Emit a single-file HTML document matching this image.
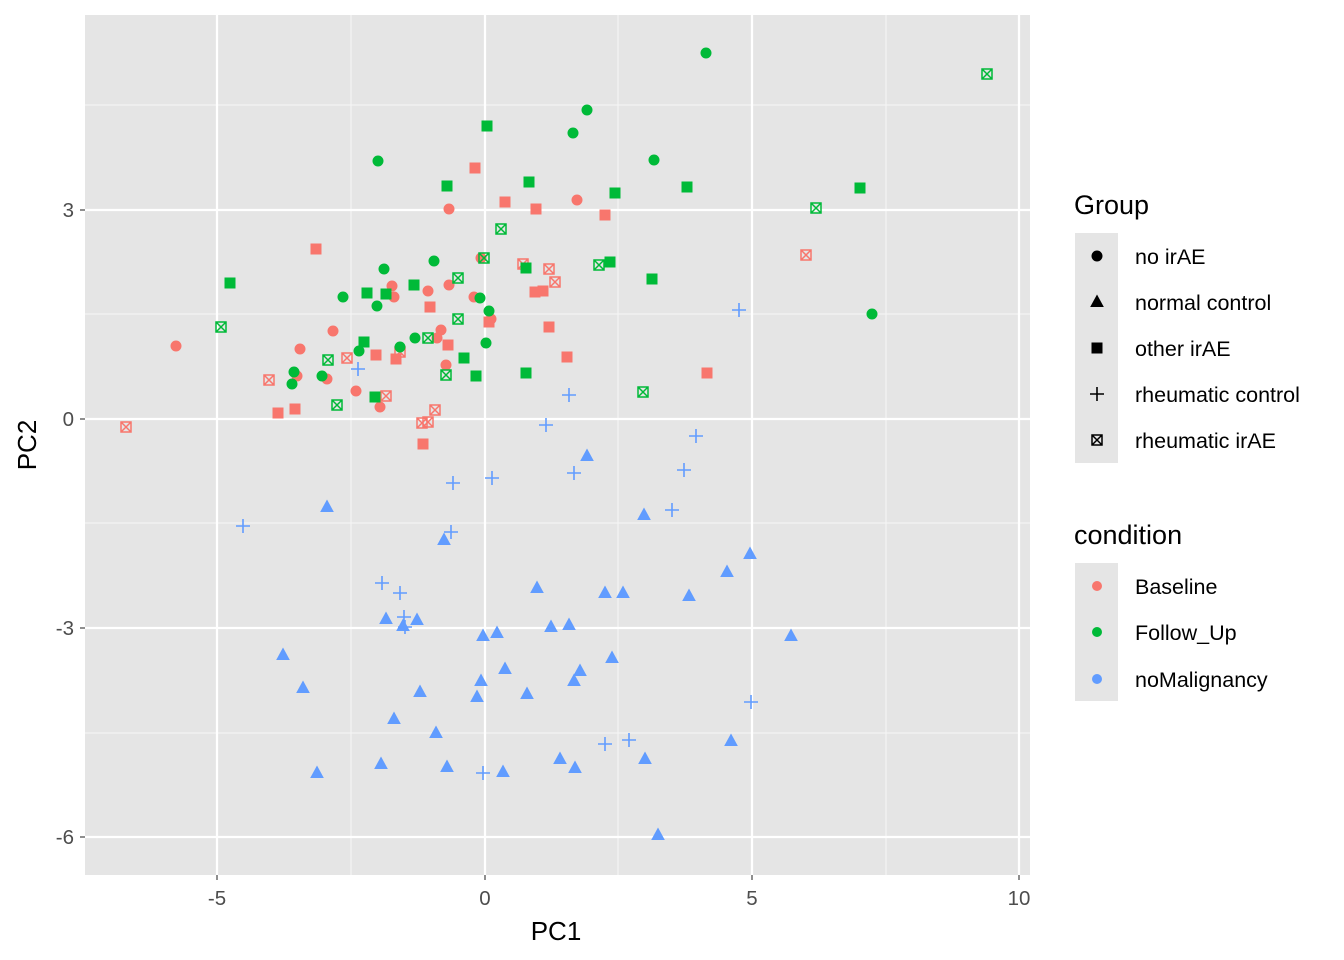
<!DOCTYPE html>
<html><head><meta charset="utf-8"><style>
html,body{margin:0;padding:0;background:#fff;}
svg{display:block;font-family:"Liberation Sans",Arial,sans-serif;}
</style></head><body>
<svg width="1344" height="960" viewBox="0 0 1344 960" xmlns="http://www.w3.org/2000/svg">
<defs>
<symbol id="c" overflow="visible"><circle cx="0" cy="0" r="5"/></symbol>
<symbol id="s" overflow="visible"><rect x="-5" y="-5" width="10" height="10"/></symbol>
<symbol id="t" overflow="visible"><polygon points="0,-6.5 6,4.5 -6,4.5"/></symbol>
<symbol id="p" overflow="visible"><path d="M-7,0H7M0,-7V7" stroke-width="1.6" fill="none"/></symbol>
<symbol id="b" overflow="visible"><path d="M-5,-5H5V5H-5Z M-5,-5L5,5 M5,-5L-5,5" stroke-width="1.5" fill="none"/></symbol>
</defs>
<rect x="85" y="15" width="945" height="860" fill="#e5e5e5"/>
<g stroke="#f4f4f4" stroke-width="1.2">
<line x1="351" y1="15" x2="351" y2="875"/><line x1="618" y1="15" x2="618" y2="875"/><line x1="886" y1="15" x2="886" y2="875"/>
<line x1="85" y1="105" x2="1030" y2="105"/><line x1="85" y1="314" x2="1030" y2="314"/><line x1="85" y1="523" x2="1030" y2="523"/><line x1="85" y1="733" x2="1030" y2="733"/>
</g>
<g stroke="#fff" stroke-width="2.2">
<line x1="217" y1="15" x2="217" y2="875"/><line x1="485" y1="15" x2="485" y2="875"/><line x1="752" y1="15" x2="752" y2="875"/><line x1="1019" y1="15" x2="1019" y2="875"/>
<line x1="85" y1="210" x2="1030" y2="210"/><line x1="85" y1="419" x2="1030" y2="419"/><line x1="85" y1="628" x2="1030" y2="628"/><line x1="85" y1="837" x2="1030" y2="837"/>
</g>
<g fill="#F8766D" stroke="#F8766D">
<use href="#c" x="176" y="346"/><use href="#c" x="300" y="349"/><use href="#c" x="297" y="376"/><use href="#c" x="327" y="379"/><use href="#c" x="333" y="331"/><use href="#c" x="356" y="391"/><use href="#c" x="380" y="407"/><use href="#c" x="392" y="286"/><use href="#c" x="394" y="297"/><use href="#c" x="428" y="291"/><use href="#c" x="441" y="330"/><use href="#c" x="437" y="338"/><use href="#c" x="449" y="285"/><use href="#c" x="449" y="209"/><use href="#c" x="446" y="365"/><use href="#c" x="474" y="297"/><use href="#c" x="481" y="258"/><use href="#c" x="577" y="200"/><use href="#c" x="491" y="319"/>
<use href="#s" x="316" y="249"/><use href="#s" x="278" y="413"/><use href="#s" x="295" y="409"/><use href="#s" x="376" y="355"/><use href="#s" x="396" y="359"/><use href="#s" x="430" y="307"/><use href="#s" x="448" y="345"/><use href="#s" x="423" y="444"/><use href="#s" x="475" y="168"/><use href="#s" x="505" y="202"/><use href="#s" x="489" y="322"/><use href="#s" x="536" y="209"/><use href="#s" x="535" y="292"/><use href="#s" x="543" y="291"/><use href="#s" x="549" y="327"/><use href="#s" x="567" y="357"/><use href="#s" x="605" y="215"/><use href="#s" x="707" y="373"/>
<use href="#b" x="126" y="427"/><use href="#b" x="269" y="380"/><use href="#b" x="347" y="358"/><use href="#b" x="386" y="396"/><use href="#b" x="400" y="352"/><use href="#b" x="422" y="423"/><use href="#b" x="428" y="422"/><use href="#b" x="435" y="410"/><use href="#b" x="523" y="264"/><use href="#b" x="549" y="269"/><use href="#b" x="555" y="282"/><use href="#b" x="806" y="255"/>
</g>
<g fill="#00BA38" stroke="#00BA38">
<use href="#c" x="706" y="53"/><use href="#c" x="587" y="110"/><use href="#c" x="573" y="133"/><use href="#c" x="654" y="160"/><use href="#c" x="378" y="161"/><use href="#c" x="384" y="269"/><use href="#c" x="343" y="297"/><use href="#c" x="377" y="306"/><use href="#c" x="359" y="351"/><use href="#c" x="294" y="372"/><use href="#c" x="292" y="384"/><use href="#c" x="322" y="376"/><use href="#c" x="400" y="347"/><use href="#c" x="415" y="338"/><use href="#c" x="434" y="261"/><use href="#c" x="480" y="298"/><use href="#c" x="489" y="311"/><use href="#c" x="486" y="343"/><use href="#c" x="872" y="314"/>
<use href="#s" x="230" y="283"/><use href="#s" x="447" y="186"/><use href="#s" x="487" y="126"/><use href="#s" x="529" y="182"/><use href="#s" x="615" y="193"/><use href="#s" x="687" y="187"/><use href="#s" x="860" y="188"/><use href="#s" x="367" y="293"/><use href="#s" x="414" y="285"/><use href="#s" x="386" y="294"/><use href="#s" x="364" y="342"/><use href="#s" x="464" y="358"/><use href="#s" x="476" y="376"/><use href="#s" x="526" y="373"/><use href="#s" x="610" y="262"/><use href="#s" x="652" y="279"/><use href="#s" x="526" y="268"/><use href="#s" x="375" y="397"/>
<use href="#b" x="221" y="327"/><use href="#b" x="328" y="360"/><use href="#b" x="337" y="405"/><use href="#b" x="428" y="338"/><use href="#b" x="458" y="278"/><use href="#b" x="458" y="319"/><use href="#b" x="446" y="375"/><use href="#b" x="484" y="258"/><use href="#b" x="501" y="229"/><use href="#b" x="599" y="265"/><use href="#b" x="643" y="392"/><use href="#b" x="816" y="208"/><use href="#b" x="987" y="74"/>
</g>
<g fill="#619CFF" stroke="#619CFF">
<use href="#t" x="327" y="507"/><use href="#t" x="283" y="655"/><use href="#t" x="303" y="688"/><use href="#t" x="317" y="773"/><use href="#t" x="381" y="764"/><use href="#t" x="386" y="619"/><use href="#t" x="394" y="719"/><use href="#t" x="403" y="626"/><use href="#t" x="417" y="620"/><use href="#t" x="420" y="692"/><use href="#t" x="436" y="733"/><use href="#t" x="447" y="767"/><use href="#t" x="444" y="540"/><use href="#t" x="483" y="636"/><use href="#t" x="481" y="681"/><use href="#t" x="477" y="697"/><use href="#t" x="497" y="633"/><use href="#t" x="503" y="772"/><use href="#t" x="505" y="669"/><use href="#t" x="527" y="694"/><use href="#t" x="537" y="588"/><use href="#t" x="551" y="627"/><use href="#t" x="560" y="759"/><use href="#t" x="569" y="625"/><use href="#t" x="574" y="681"/><use href="#t" x="580" y="671"/><use href="#t" x="575" y="768"/><use href="#t" x="587" y="456"/><use href="#t" x="605" y="593"/><use href="#t" x="623" y="593"/><use href="#t" x="612" y="658"/><use href="#t" x="644" y="515"/><use href="#t" x="645" y="759"/><use href="#t" x="658" y="835"/><use href="#t" x="689" y="596"/><use href="#t" x="727" y="572"/><use href="#t" x="731" y="741"/><use href="#t" x="750" y="554"/><use href="#t" x="791" y="636"/>
<use href="#p" x="243" y="526"/><use href="#p" x="358" y="369"/><use href="#p" x="382" y="583"/><use href="#p" x="400" y="593"/><use href="#p" x="404" y="617"/><use href="#p" x="405" y="627"/><use href="#p" x="453" y="483"/><use href="#p" x="451" y="532"/><use href="#p" x="492" y="478"/><use href="#p" x="483" y="773"/><use href="#p" x="546" y="425"/><use href="#p" x="569" y="395"/><use href="#p" x="574" y="473"/><use href="#p" x="605" y="744"/><use href="#p" x="629" y="740"/><use href="#p" x="672" y="510"/><use href="#p" x="684" y="470"/><use href="#p" x="696" y="436"/><use href="#p" x="739" y="310"/><use href="#p" x="751" y="702"/>
</g>
<g stroke="#333" stroke-width="1.1">
<line x1="217" y1="875" x2="217" y2="880"/><line x1="485" y1="875" x2="485" y2="880"/><line x1="752" y1="875" x2="752" y2="880"/><line x1="1019" y1="875" x2="1019" y2="880"/>
<line x1="80" y1="210" x2="85" y2="210"/><line x1="80" y1="419" x2="85" y2="419"/><line x1="80" y1="628" x2="85" y2="628"/><line x1="80" y1="837" x2="85" y2="837"/>
</g>
<g fill="#4d4d4d" font-size="20.5" text-anchor="middle">
<text x="217" y="905">-5</text><text x="485" y="905">0</text><text x="752" y="905">5</text><text x="1019" y="905">10</text>
</g>
<g fill="#4d4d4d" font-size="20.5" text-anchor="end">
<text x="74" y="217">3</text><text x="74" y="426">0</text><text x="74" y="635">-3</text><text x="74" y="844">-6</text>
</g>
<text x="556" y="940" font-size="26" text-anchor="middle" fill="#000">PC1</text>
<text transform="translate(36,445) rotate(-90)" font-size="26" text-anchor="middle" fill="#000">PC2</text>
<text x="1074" y="214" font-size="27" fill="#000">Group</text>
<rect x="1075" y="233" width="43" height="230" fill="#e5e5e5"/>
<g fill="#000" stroke="#000">
<use href="#c" x="1097" y="256"/>
<use href="#t" x="1097" y="302"/><use href="#s" x="1097" y="348"/><use href="#p" x="1097" y="394"/><use href="#b" x="1097" y="440"/>
</g>
<g font-size="21.5" fill="#000">
<text x="1135" y="264">no irAE</text><text x="1135" y="310">normal control</text><text x="1135" y="356">other irAE</text><text x="1135" y="402">rheumatic control</text><text x="1135" y="448">rheumatic irAE</text>
</g>
<text x="1074" y="544" font-size="27" fill="#000">condition</text>
<rect x="1075" y="563" width="43" height="138" fill="#e5e5e5"/>
<circle cx="1097" cy="586" r="5" fill="#F8766D"/><circle cx="1097" cy="632" r="5" fill="#00BA38"/><circle cx="1097" cy="679" r="5" fill="#619CFF"/>
<g font-size="21.5" fill="#000">
<text x="1135" y="594">Baseline</text><text x="1135" y="640">Follow_Up</text><text x="1135" y="687">noMalignancy</text>
</g>
</svg>
</body></html>
